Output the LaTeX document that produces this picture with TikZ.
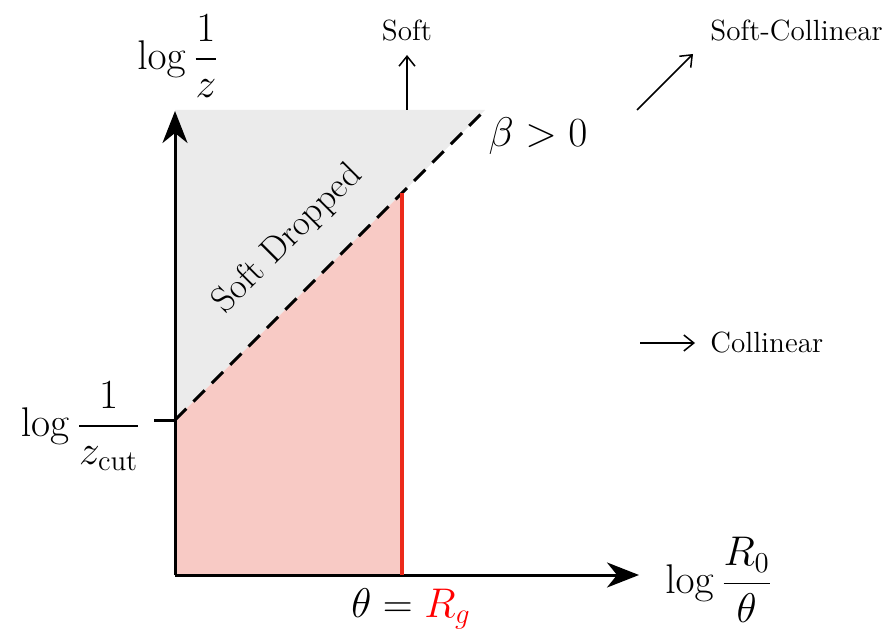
\documentclass[tikz,border=0pt]{standalone}
\usepackage{amsmath}
\usetikzlibrary{arrows.meta}
\definecolor{softgray}{HTML}{EBEBEB}
\definecolor{pinkfill}{HTML}{F8CAC5}
\definecolor{redline}{HTML}{EC2A1A}
\begin{document}
\begin{tikzpicture}[x=0.5pt,y=-0.5pt,
  axis/.style={line width=1.5pt,-{Stealth[length=16pt,width=12.5pt,inset=5pt]}},
  thin arrow/.style={line width=0.75pt,-{Straight Barb[length=5pt,width=8pt]}},
  lbl/.style={font=\fontsize{14.6}{17}\selectfont,inner sep=1pt},
  mlbl/.style={font=\fontsize{21.5}{26}\selectfont,inner sep=1pt}]
\useasboundingbox (0,0) rectangle (889,631);
% key coordinates
\coordinate (O) at (175,575);
\coordinate (Ytop) at (175,111);
\coordinate (Xend) at (639,575);
\coordinate (Zc) at (175,420);
\coordinate (Tick) at (154,420);
\coordinate (Dtop) at (485,110);
\coordinate (Rtop) at (402,193);
\coordinate (Rbot) at (402,575);
\coordinate (Gtop) at (175,110);
% fills
\fill[softgray] (Gtop) -- (Dtop) -- (Zc) -- cycle;
\fill[pinkfill] (O) -- (Zc) -- (Rtop) -- (Rbot) -- cycle;
% axes
\draw[axis] (O) -- (Ytop);
\draw[axis] (O) -- (Xend);
\draw[line width=1.5pt] (Tick) -- (Zc);
% dashed boundary
\draw[line width=1.5pt,dash pattern=on 8pt off 5pt] (Zc) -- (Dtop);
% red line
\draw[redline,line width=1.8pt] (Rbot) -- (Rtop);
% direction arrows
\coordinate (s0) at (407,110);
\coordinate (s1) at (407,55);
\node[lbl] (soft) at (407,31) {Soft};
\draw[thin arrow] (s0) -- (s1);
\coordinate (sc0) at (637,110);
\coordinate (sc1) at (693,54);
\node[lbl,anchor=west] (softcol) at (708,31) {Soft-Collinear};
\draw[thin arrow] (sc0) -- (sc1);
\coordinate (c0) at (640,343);
\coordinate (c1) at (695,343);
\node[lbl,anchor=west] (col) at (708,343) {Collinear};
\draw[thin arrow] (c0) -- (c1);
% labels
\node[mlbl] (beta) at (538,136) {$\beta > 0$};
\node[mlbl] (ylab) at (178,56) {$\log\dfrac{1}{z}$};
\node[mlbl,anchor=east] (zcut) at (143,426) {$\log\dfrac{1}{z_{\mathrm{cut}}}$};
\node[mlbl,anchor=west] (xlab) at (663,580) {$\log\dfrac{R_0}{\theta}$};
\node[mlbl] (rg) at (411,609) {$\theta = \textcolor{red}{R_g}$};
\node[font=\fontsize{18}{21}\selectfont,rotate=45,inner sep=1pt] (sd) at (288,239) {Soft Dropped};
\end{tikzpicture}
\end{document}
